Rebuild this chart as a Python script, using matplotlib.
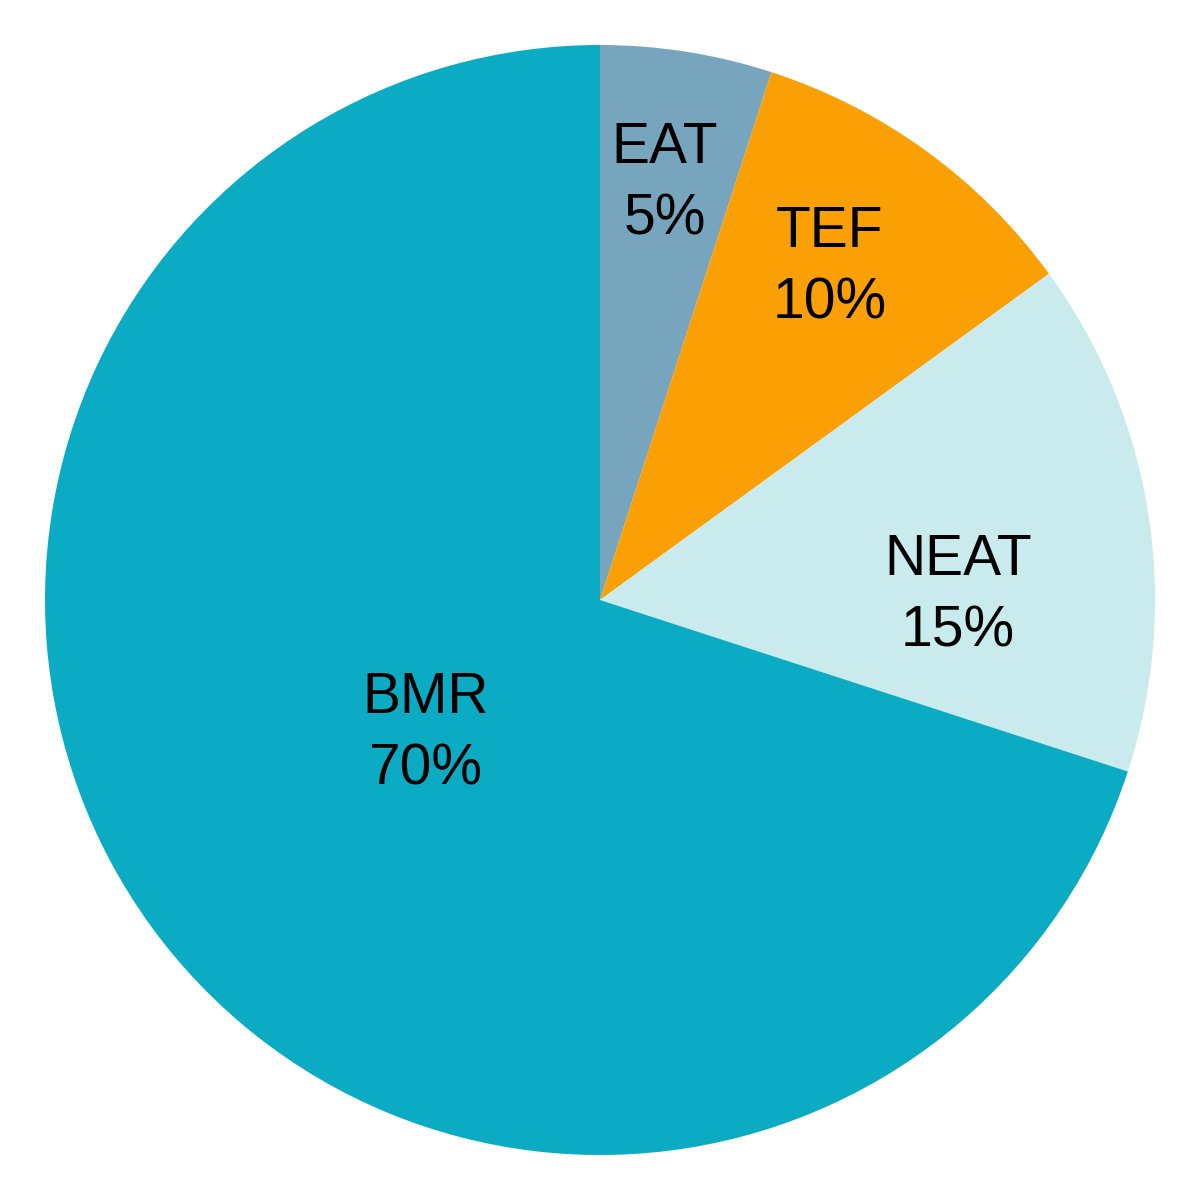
import matplotlib
matplotlib.use("Agg")
import matplotlib.pyplot as plt

# energy expenditure components
labels = ["EAT", "TEF", "NEAT", "BMR"]
shares = [5, 10, 15, 70]
colors = ["#78A5BE", "#FAA005", "#C9EBEE", "#0AABC3"]

plt.rcParams["font.family"] = ["Liberation Sans", "DejaVu Sans"]

fig = plt.figure(figsize=(12, 12), dpi=100)
ax = fig.add_axes([0, 0, 1, 1])

wedges, texts = ax.pie(shares, colors=colors, startangle=90, counterclock=False,
                       labels=[f"{l}\n{s}%" for l, s in zip(labels, shares)],
                       wedgeprops=dict(linewidth=0))

# label spots picked by hand (like Excel best fit)
spots = [(0.117, 0.750), (0.414, 0.598), (0.645, 0.008), (-0.315, -0.241)]
for t, p in zip(texts, spots):
    t.set_position(p)
    t.set_ha("center")
    t.set_va("center")
    t.set_fontsize(41)
    t.set_linespacing(1.42)

lim = 600 / 555
ax.set_xlim(-lim, lim)
ax.set_ylim(-lim, lim)
ax.set_aspect("equal")
ax.axis("off")

fig.savefig("out.png", dpi=100, facecolor="white")
